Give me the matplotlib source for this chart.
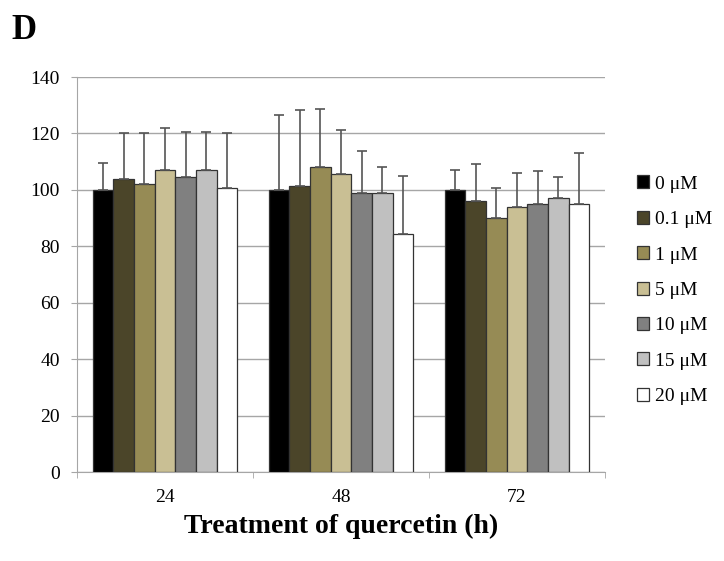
import matplotlib
matplotlib.use("Agg")
import matplotlib.pyplot as plt
import numpy as np

categories = ["24", "48", "72"]
series_labels = ["0 μM", "0.1 μM", "1 μM", "5 μM", "10 μM", "15 μM", "20 μM"]
colors = ["#000000", "#4b4529", "#968b55", "#c9bf94", "#808080", "#c0c0c0", "#ffffff"]

# values[series][category]
values = [
    [100.0, 100.0, 100.0],
    [104.0, 101.2, 95.9],
    [102.0, 108.0, 90.0],
    [107.1, 105.6, 94.0],
    [104.5, 98.8, 95.0],
    [107.1, 98.8, 97.3],
    [100.6, 84.4, 95.0],
]
errors = [
    [9.5, 26.6, 7.1],
    [16.1, 27.2, 13.4],
    [18.0, 20.7, 10.6],
    [14.8, 15.8, 12.0],
    [16.0, 15.1, 11.6],
    [13.4, 9.4, 7.2],
    [19.5, 20.5, 17.9],
]
yticks = [0, 20, 40, 60, 80, 100, 120, 140]

plt.rcParams['font.family'] = ['Liberation Serif', 'DejaVu Serif']

fig = plt.figure(figsize=(7.24, 5.61), dpi=100)
ax = fig.add_axes([0.1064, 0.1586, 0.7292, 0.7041])

n = len(series_labels)
x = np.arange(len(categories))
group_w = 0.82
w = group_w / n
for i in range(n):
    pos = x - group_w / 2 + w * (i + 0.5)
    ax.bar(pos, values[i], width=w, color=colors[i], edgecolor="#333333",
           linewidth=0.9, label=series_labels[i], zorder=3)
    ax.errorbar(pos, values[i], yerr=[np.zeros(len(categories)), errors[i]],
                fmt="none", ecolor="#555555", elinewidth=1.2, capsize=3.8,
                capthick=1.2, zorder=4)

ax.set_xlim(-0.5, 2.5)
ax.set_ylim(0, 140)
ax.set_yticks(yticks)
ax.yaxis.grid(True, color="#a6a6a6", linewidth=1.0, zorder=0)
ax.set_axisbelow(True)
ax.set_xticks(x)
ax.set_xticklabels(categories)
ax.set_xticks([-0.5, 0.5, 1.5, 2.5], minor=True)
ax.tick_params(axis="x", which="major", length=0, labelsize=14, pad=12)
ax.tick_params(axis="x", which="minor", length=4.5, color="#a6a6a6", direction="out")
ax.tick_params(axis="y", length=4.5, color="#a6a6a6", labelsize=14, direction="out", pad=8)
for s in ["top", "right"]:
    ax.spines[s].set_visible(False)
ax.spines["left"].set_color("#a6a6a6")
ax.spines["bottom"].set_color("#a6a6a6")

ax.set_xlabel("Treatment of quercetin (h)", fontsize=20, fontweight="bold", labelpad=6)

leg = ax.legend(loc="center left", bbox_to_anchor=(1.06, 0.46), frameon=False,
                fontsize=14, handlelength=0.65, handleheight=0.65,
                handletextpad=0.27, labelspacing=0.93, borderpad=0,
                borderaxespad=0)

fig.text(0.016, 0.9465, "D", fontsize=25, fontweight="bold", va="center", ha="left")

fig.savefig("out.png", dpi=100)
